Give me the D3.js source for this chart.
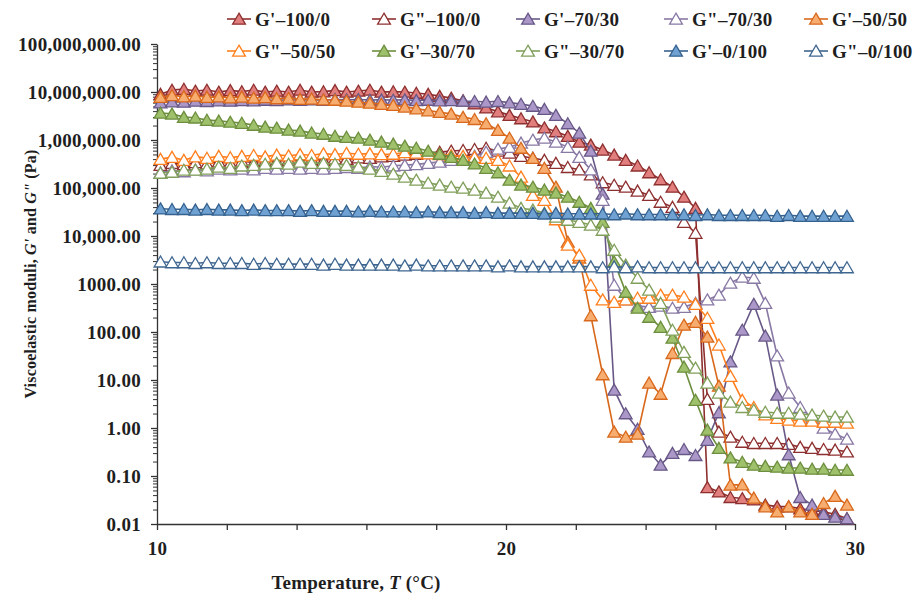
<!DOCTYPE html>
<html>
<head>
<meta charset="utf-8">
<script src="https://cdn.jsdelivr.net/npm/d3@7"></script>
<style>
  body { margin: 0; background: #fff; }
  svg text { font-family: "Liberation Serif", "DejaVu Serif", serif; font-weight: bold; fill: #1e1e1e; }
</style>
</head>
<body>
<div id="chart"></div>
<script>
// temperature of each sample (°C)
var temps = [10.10, 10.43, 10.77, 11.10, 11.43, 11.77, 12.10, 12.43, 12.77, 13.10,
             13.43, 13.77, 14.10, 14.43, 14.77, 15.10, 15.43, 15.77, 16.10, 16.43,
             16.77, 17.10, 17.43, 17.77, 18.10, 18.43, 18.77, 19.10, 19.43, 19.77,
             20.10, 20.43, 20.77, 21.10, 21.43, 21.77, 22.10, 22.43, 22.77, 23.10,
             23.43, 23.77, 24.10, 24.43, 24.77, 25.10, 25.43, 25.77, 26.10, 26.43,
             26.77, 27.10, 27.43, 27.77, 28.10, 28.43, 28.77, 29.10, 29.43, 29.77];

// G' and G" (Pa) for each blend
var gp100 = [9.0e6, 1.1e7, 1.15e7, 1.05e7, 1.1e7, 1.0e7, 1.08e7, 1.02e7, 1.1e7, 1.0e7,
             1.05e7, 1.0e7, 1.1e7, 1.0e7, 1.02e7, 1.08e7, 1.0e7, 1.05e7, 1.1e7, 1.0e7,
             1.02e7, 1.0e7, 9.5e6, 9.0e6, 8.2e6, 7.5e6, 6.6e6, 5.7e6, 4.7e6, 3.9e6,
             3.3e6, 2.8e6, 2.4e6, 1.8e6, 1.5e6, 1.2e6, 9.1e5, 7.9e5, 6.2e5, 4.9e5,
             3.8e5, 2.9e5, 2.1e5, 1.5e5, 1.05e5, 6.5e4, 3.8e4, 0.058, 0.047, 0.036,
             0.034, 0.032, 0.025, 0.023, 0.023, 0.021, 0.019, 0.018, 0.016, 0.013];
var gpp100 = [3.0e5, 3.3e5, 3.1e5, 3.4e5, 3.2e5, 3.5e5, 3.3e5, 3.6e5, 3.4e5, 3.7e5,
              3.6e5, 3.8e5, 3.7e5, 4.0e5, 3.8e5, 4.1e5, 4.0e5, 4.3e5, 4.2e5, 4.5e5,
              4.6e5, 4.9e5, 5.1e5, 5.4e5, 5.6e5, 5.9e5, 6.1e5, 6.4e5, 6.8e5, 5.9e5,
              5.4e5, 4.6e5, 4.2e5, 3.8e5, 3.3e5, 2.7e5, 2.4e5, 1.9e5, 1.3e5, 1.15e5,
              1.05e5, 8.7e4, 7.1e4, 5.1e4, 4.0e4, 1.95e4, 1.15e4, 4.0, 0.83, 0.65,
              0.51, 0.48, 0.48, 0.48, 0.46, 0.40, 0.38, 0.36, 0.35, 0.32];
var gp70 = [6.0e6, 6.3e6, 6.2e6, 6.5e6, 6.4e6, 6.6e6, 6.5e6, 6.7e6, 6.6e6, 6.8e6,
            6.7e6, 6.9e6, 6.8e6, 6.9e6, 6.8e6, 7.0e6, 6.9e6, 7.0e6, 6.8e6, 6.9e6,
            6.8e6, 6.9e6, 6.7e6, 6.8e6, 6.6e6, 6.7e6, 6.5e6, 6.4e6, 6.2e6, 6.4e6,
            6.0e6, 5.6e6, 5.1e6, 4.4e6, 3.3e6, 2.2e6, 1.4e6, 5.9e5, 7.5e4, 6.2,
            2.0, 0.95, 0.32, 0.17, 0.30, 0.36, 0.27, 0.56, 2.1, 24,
            110, 380, 83, 4.9, 0.28, 0.036, 0.025, 0.016, 0.014, 0.013];
var gpp70 = [2.1e5, 2.3e5, 2.2e5, 2.4e5, 2.3e5, 2.5e5, 2.4e5, 2.5e5, 2.4e5, 2.6e5,
             2.5e5, 2.6e5, 2.5e5, 2.6e5, 2.5e5, 2.6e5, 2.7e5, 2.6e5, 2.8e5, 2.7e5,
             2.9e5, 3.0e5, 3.1e5, 3.3e5, 3.5e5, 3.8e5, 4.1e5, 4.6e5, 5.6e5, 6.5e5,
             7.1e5, 8.7e5, 1.0e6, 1.1e6, 9.1e5, 7.1e5, 4.4e5, 2.4e5, 5.6e4, 950,
             470, 350, 330, 350, 316, 330, 400, 470, 590, 1050,
             1400, 1330, 400, 32, 5.4, 2.7, 1.6, 1.0, 0.75, 0.59];
var gp50 = [7.8e6, 8.5e6, 8.0e6, 8.3e6, 7.8e6, 8.0e6, 7.6e6, 7.9e6, 7.5e6, 7.7e6,
            7.3e6, 7.4e6, 7.1e6, 7.2e6, 6.9e6, 6.8e6, 6.5e6, 6.2e6, 5.9e6, 5.6e6,
            5.3e6, 4.9e6, 4.5e6, 4.1e6, 3.8e6, 3.5e6, 3.0e6, 2.7e6, 2.2e6, 1.6e6,
            1.1e6, 6.8e5, 4.2e5, 2.6e5, 1.05e5, 7.5e3, 3.5e3, 220, 13, 0.83,
            0.65, 0.75, 8.7, 5.1, 36, 140, 160, 79, 7.5, 0.065,
            0.066, 0.035, 0.023, 0.018, 0.023, 0.018, 0.016, 0.027, 0.038, 0.025];
var gpp50 = [4.0e5, 4.4e5, 3.8e5, 4.5e5, 4.2e5, 4.6e5, 4.3e5, 4.6e5, 4.8e5, 4.5e5,
             4.9e5, 4.7e5, 5.0e5, 4.8e5, 5.2e5, 5.0e5, 5.3e5, 5.1e5, 5.2e5, 5.0e5,
             5.1e5, 5.5e5, 5.4e5, 5.2e5, 5.0e5, 4.8e5, 4.6e5, 4.4e5, 4.2e5, 3.8e5,
             2.9e5, 1.7e5, 7.1e4, 5.6e4, 2.2e4, 6.5e3, 4.0e3, 950, 470, 420,
             470, 510, 510, 590, 590, 540, 380, 195, 54, 12,
             3.8, 2.7, 1.9, 1.6, 1.47, 1.4, 1.4, 1.33, 1.33, 1.27];
var gp30 = [3.65e6, 3.5e6, 3.0e6, 2.9e6, 2.6e6, 2.5e6, 2.37e6, 2.25e6, 2.05e6, 1.87e6,
            1.78e6, 1.62e6, 1.55e6, 1.41e6, 1.33e6, 1.21e6, 1.15e6, 1.10e6, 1.0e6, 9.1e5,
            8.3e5, 7.5e5, 6.8e5, 5.9e5, 5.1e5, 4.4e5, 3.8e5, 3.2e5, 2.6e5, 2.1e5,
            1.47e5, 1.16e5, 1.05e5, 9.1e4, 7.9e4, 6.5e4, 5.1e4, 3.8e4, 1.95e4, 2.9e3,
            680, 316, 205, 126, 75, 18.7, 3.8, 0.91, 0.38, 0.24,
            0.195, 0.17, 0.16, 0.154, 0.147, 0.147, 0.14, 0.14, 0.133, 0.133];
var gpp30 = [2.05e5, 2.15e5, 2.37e5, 2.37e5, 2.5e5, 2.75e5, 2.6e5, 2.9e5, 3.0e5, 3.16e5,
             3.3e5, 3.16e5, 3.5e5, 3.3e5, 3.3e5, 3.16e5, 3.0e5, 2.75e5, 2.5e5, 2.25e5,
             1.96e5, 1.7e5, 1.47e5, 1.27e5, 1.16e5, 1.05e5, 1.0e5, 9.1e4, 7.9e4, 6.5e4,
             4.9e4, 3.8e4, 3.5e4, 3.0e4, 2.5e4, 2.15e4, 1.95e4, 1.7e4, 1.33e4, 5.1e3,
             2.5e3, 1.33e3, 750, 400, 110, 38, 17.8, 8.7, 5.4, 3.5,
             2.7, 2.37, 2.15, 2.05, 2.05, 1.96, 1.87, 1.78, 1.7, 1.7];
var gp0 = [3.7e4, 3.6e4, 3.6e4, 3.5e4, 3.6e4, 3.5e4, 3.5e4, 3.4e4, 3.5e4, 3.4e4,
           3.4e4, 3.4e4, 3.3e4, 3.4e4, 3.3e4, 3.3e4, 3.3e4, 3.2e4, 3.3e4, 3.2e4,
           3.2e4, 3.2e4, 3.1e4, 3.2e4, 3.1e4, 3.1e4, 3.1e4, 3.0e4, 3.1e4, 3.0e4,
           3.0e4, 3.0e4, 3.0e4, 2.9e4, 3.0e4, 2.9e4, 2.9e4, 2.9e4, 2.9e4, 2.8e4,
           2.9e4, 2.8e4, 2.8e4, 2.8e4, 2.8e4, 2.8e4, 2.7e4, 2.8e4, 2.7e4, 2.7e4,
           2.7e4, 2.7e4, 2.7e4, 2.6e4, 2.7e4, 2.6e4, 2.6e4, 2.6e4, 2.6e4, 2.6e4];
var gpp0 = [2.9e3, 2.8e3, 2.8e3, 2.7e3, 2.8e3, 2.7e3, 2.7e3, 2.7e3, 2.6e3, 2.7e3,
            2.6e3, 2.6e3, 2.6e3, 2.6e3, 2.5e3, 2.6e3, 2.5e3, 2.5e3, 2.5e3, 2.5e3,
            2.5e3, 2.4e3, 2.5e3, 2.4e3, 2.4e3, 2.4e3, 2.4e3, 2.4e3, 2.4e3, 2.3e3,
            2.4e3, 2.3e3, 2.3e3, 2.3e3, 2.3e3, 2.3e3, 2.3e3, 2.3e3, 2.2e3, 2.3e3,
            2.2e3, 2.3e3, 2.2e3, 2.2e3, 2.2e3, 2.2e3, 2.2e3, 2.2e3, 2.2e3, 2.2e3,
            2.2e3, 2.2e3, 2.2e3, 2.2e3, 2.2e3, 2.2e3, 2.2e3, 2.2e3, 2.2e3, 2.2e3];

var seriesNames = ["G'–100/0", 'G"–100/0', "G'–70/30", 'G"–70/30', "G'–50/50",
                   'G"–50/50', "G'–30/70", 'G"–30/70', "G'–0/100", 'G"–0/100'];
var seriesValues = [gp100, gpp100, gp70, gpp70, gp50, gpp50, gp30, gpp30, gp0, gpp0];
var seriesFill = ["#e07f7e", "#fff", "#ab98c9", "#fff", "#f8ad70", "#fff", "#a0c16c", "#fff", "#6fa2d2", "#fff"];
var seriesStroke = ["#8e2f2f", "#8e2f2f", "#685887", "#8878a4", "#d8691c", "#ff7f1e", "#6c8e3e", "#809f5a", "#35618f", "#3f6690"];

var yTickValues = [0.01, 0.1, 1, 10, 100, 1000, 1e4, 1e5, 1e6, 1e7, 1e8];
var yTickLabels = ["0.01", "0.10", "1.00", "10.00", "100.00", "1000.00", "10,000.00",
                   "100,000.00", "1,000,000.00", "10,000,000.00", "100,000,000.00"];
var xTickValues = [10, 12, 14, 16, 18, 20, 22, 24, 26, 28, 30];

var svgWidth = 918;
var svgHeight = 601;
var margin = { top: 44, right: 63, bottom: 77, left: 157 };
var w = svgWidth - margin.left - margin.right;
var h = svgHeight - margin.top - margin.bottom;

var svg = d3.select("#chart").append("svg")
    .attr("width", svgWidth)
    .attr("height", svgHeight);

var chartGroup = svg.append("g")
    .attr("transform", `translate(${margin.left}, ${margin.top})`);

var x = d3.scaleLinear().domain([10, 30]).range([0, w]);
var y = d3.scaleLog().domain([0.01, 1e8]).range([h, 0]);

// minor log ticks
var minor = [];
yTickValues.slice(0, -1).forEach(function (d) {
    for (var k = 2; k <= 9; k++) minor.push(d * k);
});
chartGroup.append("g")
    .call(d3.axisLeft(y).tickValues(minor).tickSize(4).tickFormat(""))
    .call(g => g.select(".domain").remove())
    .selectAll("line").attr("stroke", "#333");

var leftAxis = d3.axisLeft(y)
    .tickValues(yTickValues)
    .tickSize(6)
    .tickSizeOuter(0)
    .tickPadding(10)
    .tickFormat((d, i) => yTickLabels[i]);
var yg = chartGroup.append("g").call(leftAxis);
yg.selectAll("text").style("font-size", "19px").style("letter-spacing", "0.3px");
yg.selectAll("line, path").attr("stroke", "#333").attr("stroke-width", 1.3);

var bottomAxis = d3.axisBottom(x)
    .tickValues(xTickValues)
    .tickSize(6)
    .tickSizeOuter(0)
    .tickPadding(12)
    .tickFormat(d => (d % 10 === 0 ? d : ""));
var xg = chartGroup.append("g")
    .attr("transform", `translate(0, ${h})`)
    .call(bottomAxis);
xg.selectAll("text").style("font-size", "19px").style("letter-spacing", "0.3px");
xg.selectAll("line, path").attr("stroke", "#333").attr("stroke-width", 1.3);

// axis titles
svg.append("text")
    .attr("x", 356)
    .attr("y", 589)
    .attr("text-anchor", "middle")
    .style("font-size", "19px")
    .style("letter-spacing", "0.2px")
    .html('Temperature, <tspan font-style="italic">T</tspan> (°C)');

svg.append("text")
    .attr("transform", "translate(36, 274) rotate(-90)")
    .attr("text-anchor", "middle")
    .style("font-size", "16px")
    .style("letter-spacing", "0.2px")
    .html('Viscoelastic moduli, <tspan font-style="italic">G\'</tspan> and <tspan font-style="italic">G"</tspan> (Pa)');

var tri = "M0,-5.8L6.4,5.2L-6.4,5.2Z";

var line = d3.line()
    .x(d => x(d[0]))
    .y(d => y(d[1]));

seriesValues.forEach(function (vals, s) {
    var pts = temps.map((t, i) => [t, vals[i]]);
    var g = chartGroup.append("g");
    g.append("path")
        .datum(pts)
        .attr("d", line)
        .attr("fill", "none")
        .attr("stroke", seriesStroke[s])
        .attr("stroke-width", 1.6);
    g.selectAll("path.mk")
        .data(pts)
        .enter()
        .append("path")
        .attr("class", "mk")
        .attr("d", tri)
        .attr("transform", d => `translate(${x(d[0])}, ${y(d[1])})`)
        .attr("fill", seriesFill[s])
        .attr("stroke", seriesStroke[s])
        .attr("stroke-width", 1.3);
});

// legend
var legendX = [239, 384, 528, 676, 816];
var legendY = [19, 51];
seriesNames.forEach(function (name, s) {
    var lg = svg.append("g")
        .attr("transform", `translate(${legendX[s % 5]}, ${legendY[Math.floor(s / 5)]})`);
    lg.append("line")
        .attr("x1", -12).attr("x2", 12)
        .attr("stroke", seriesStroke[s])
        .attr("stroke-width", 1.6);
    lg.append("path")
        .attr("d", tri)
        .attr("fill", seriesFill[s])
        .attr("stroke", seriesStroke[s])
        .attr("stroke-width", 1.3);
    lg.append("text")
        .attr("x", 16)
        .attr("dy", "0.35em")
        .style("font-size", "19px")
        .style("letter-spacing", "0.3px")
        .text(name);
});
</script>
</body>
</html>
